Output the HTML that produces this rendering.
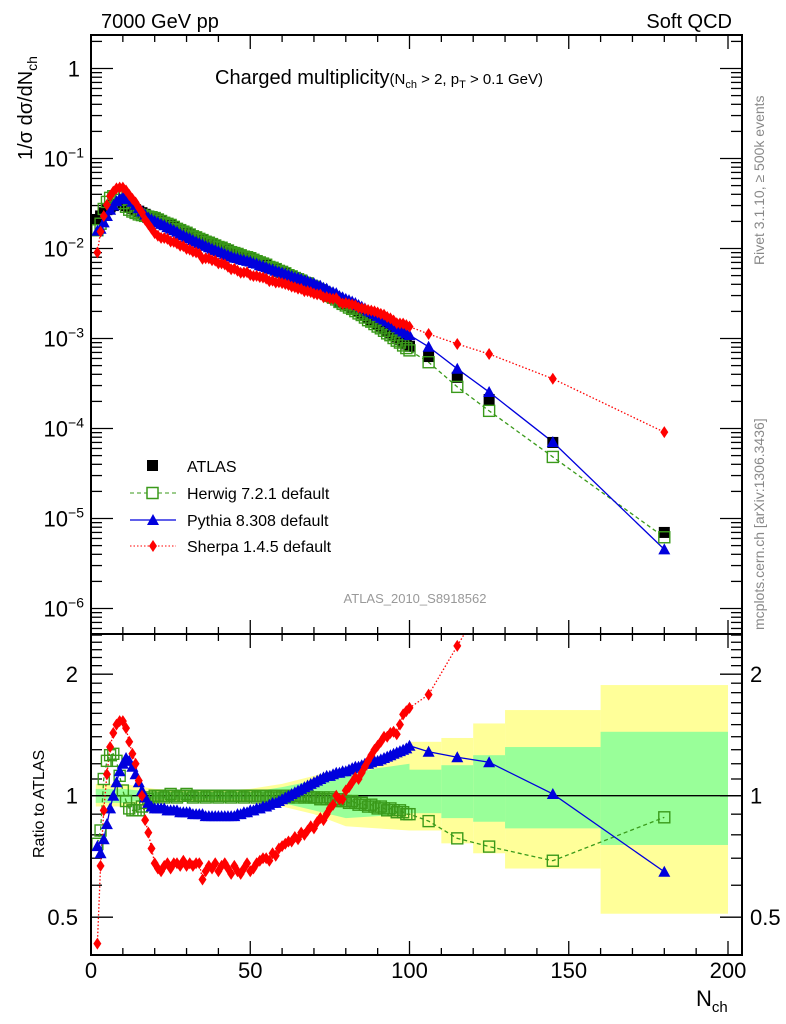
<!DOCTYPE html>
<html><head><meta charset="utf-8"><style>
html,body{margin:0;padding:0;background:#fff;}
svg{display:block;font-family:"Liberation Sans",sans-serif;}
</style></head><body>
<svg id="c" width="786" height="1024" viewBox="0 0 786 1024" xmlns="http://www.w3.org/2000/svg">
<defs>
<clipPath id="clipT"><rect x="91" y="35" width="651" height="599"/></clipPath>
<clipPath id="clipB"><rect x="91" y="634" width="651" height="321"/></clipPath>
</defs>
<rect width="786" height="1024" fill="#fff"/>
<g id="bands" clip-path="url(#clipB)"></g>
<g id="ticks"></g>
<line x1="91" y1="795.7" x2="742" y2="795.7" stroke="#000" stroke-width="1.3"/>
<g id="topSeries" clip-path="url(#clipT)"></g>
<g id="botSeries" clip-path="url(#clipB)"></g>
<rect x="91" y="35" width="651" height="599" fill="none" stroke="#000" stroke-width="2"/>
<rect x="91" y="634" width="651" height="321" fill="none" stroke="#000" stroke-width="2"/>
<g id="labels" font-size="22" fill="#000"></g>
<text x="101" y="28" font-size="20">7000 GeV pp</text>
<text x="732" y="28" font-size="20" text-anchor="end">Soft QCD</text>
<text x="215" y="84" font-size="20">Charged multiplicity<tspan font-size="15">(N</tspan><tspan font-size="11" dy="4">ch</tspan><tspan font-size="15" dy="-4"> &gt; 2, p</tspan><tspan font-size="11" dy="4">T</tspan><tspan font-size="15" dy="-4"> &gt; 0.1 GeV)</tspan></text>
<text transform="translate(32,160) rotate(-90)" font-size="20">1/σ dσ/dN<tspan font-size="14" dy="5">ch</tspan></text>
<text transform="translate(44,858) rotate(-90)" font-size="16">Ratio to ATLAS</text>
<text x="696" y="1006" font-size="22">N<tspan font-size="15" dy="6">ch</tspan></text>
<text transform="translate(764,265) rotate(-90)" font-size="14" fill="#888">Rivet 3.1.10, ≥ 500k events</text>
<text transform="translate(764,630) rotate(-90)" font-size="14" fill="#888">mcplots.cern.ch [arXiv:1306.3436]</text>
<text x="415" y="603" font-size="13" fill="#999" text-anchor="middle">ATLAS_2010_S8918562</text>
<g id="legend">
<rect x="147" y="460" width="11" height="11" fill="#000"/>
<text x="187" y="472" font-size="16">ATLAS</text>
<line x1="130" y1="493" x2="176" y2="493" stroke="#3a9a1a" stroke-dasharray="4,3"/>
<rect x="147" y="487.5" width="11" height="11" fill="#fff" stroke="#3a9a1a" stroke-width="1.5"/>
<text x="187" y="499" font-size="16">Herwig 7.2.1 default</text>
<line x1="130" y1="520" x2="176" y2="520" stroke="#0000dd" stroke-width="1.3"/>
<polygon points="153,514 159,525 147,525" fill="#0000dd"/>
<text x="187" y="526" font-size="16">Pythia 8.308 default</text>
<line x1="130" y1="546" x2="176" y2="546" stroke="#f00" stroke-dasharray="1.5,2"/>
<polygon points="153,540 157,546 153,552 149,546" fill="#f00"/>
<text x="187" y="552" font-size="16">Sherpa 1.4.5 default</text>
</g>
</svg>
<script>
const denseStart = 2;
const atlas = [0.021,0.023,0.025,0.027,0.029,0.030,0.031,0.031,0.031,0.030,0.029,0.028,0.027,0.026,0.025,0.024,0.023,0.0225,0.0218,
0.021,0.0202,0.0195,0.0188,0.0181,0.0174,0.0167,0.0160,0.0154,0.0148,
0.0143,0.0138,0.0133,0.0128,0.0124,0.0120,0.0116,0.0112,0.0108,0.0105,
0.0102,0.0098,0.0095,0.0092,0.0089,0.0087,0.0084,0.0082,0.0080,0.0078,
0.0075,0.0073,0.0070,0.0068,0.0066,0.0063,0.0061,0.0059,0.0057,0.0055,
0.0053,0.0051,0.0049,0.0047,0.0046,0.0044,0.0042,0.0041,0.0039,0.0038,
0.0036,0.0035,0.0033,0.0032,0.0030,0.0029,0.0028,0.0026,0.0025,0.0024,
0.0023,0.0022,0.0021,0.0020,0.0019,0.0018,0.0017,0.00162,0.00154,0.00146,
0.00138,0.00131,0.00124,0.00117,0.00110,0.00104,0.00098,0.00092,0.00087,0.00082];
const herwigRatio = [0.76,0.82,1.10,1.22,1.26,1.27,1.22,1.12,1.03,0.97,0.93,0.92,0.92,0.92,0.94,0.96,0.98,0.99,1.0,
1.0,1.0,0.99,1.0,1.01,1.0,0.99,1.0,1.0,1.01,
1.0,0.99,1.0,1.0,1.0,0.99,1.0,1.0,1.0,0.99,
1.0,1.0,1.0,0.99,1.0,1.0,1.0,0.99,1.0,1.0,
1.0,0.99,1.0,1.0,1.0,0.99,1.0,1.0,0.99,1.0,
1.0,0.99,1.0,1.0,0.99,1.0,0.99,1.0,0.99,0.99,
0.99,0.98,0.99,0.98,0.99,0.98,0.97,0.98,0.97,0.97,
0.96,0.97,0.96,0.95,0.96,0.95,0.94,0.95,0.94,0.93,
0.94,0.93,0.92,0.93,0.92,0.91,0.92,0.91,0.90,0.90];
const pythiaRatio = [0.75,0.72,0.78,0.85,0.93,1.0,1.08,1.15,1.20,1.24,1.22,1.18,1.13,1.08,1.03,0.99,0.96,0.94,0.93,
0.93,0.93,0.93,0.92,0.92,0.92,0.92,0.91,0.91,0.91,
0.91,0.90,0.90,0.90,0.90,0.89,0.89,0.89,0.89,0.89,
0.89,0.89,0.89,0.89,0.89,0.90,0.90,0.91,0.91,0.92,
0.92,0.93,0.93,0.94,0.94,0.95,0.96,0.96,0.97,0.98,
0.99,1.0,1.01,1.02,1.03,1.04,1.05,1.06,1.07,1.08,
1.09,1.10,1.11,1.12,1.12,1.13,1.14,1.14,1.15,1.15,
1.16,1.17,1.18,1.18,1.19,1.20,1.20,1.21,1.22,1.22,
1.23,1.24,1.25,1.26,1.27,1.28,1.29,1.30,1.31,1.33];
const sherpaRatio = [0.43,0.67,0.92,1.13,1.32,1.43,1.50,1.53,1.53,1.47,1.36,1.27,1.20,1.09,1.0,0.87,0.81,0.74,0.68,
0.66,0.65,0.67,0.68,0.66,0.68,0.68,0.67,0.69,0.67,
0.68,0.67,0.68,0.68,0.62,0.65,0.67,0.66,0.68,0.65,
0.67,0.68,0.66,0.64,0.67,0.65,0.64,0.66,0.68,0.65,
0.66,0.68,0.69,0.70,0.70,0.69,0.72,0.71,0.74,0.75,
0.76,0.77,0.77,0.79,0.78,0.81,0.80,0.82,0.84,0.83,
0.86,0.88,0.87,0.90,0.93,0.95,1.0,0.98,0.98,1.03,
1.05,1.08,1.11,1.10,1.14,1.18,1.22,1.26,1.30,1.33,
1.36,1.40,1.40,1.43,1.44,1.42,1.50,1.59,1.62,1.65];
const tailN = [106,115,125,145,180];
const tailAtlas = [0.00063,0.00037,0.00021,7.0e-5,7.0e-6];
const tailHerwig = [0.865,0.784,0.748,0.69,0.884];
const tailPythia = [1.285,1.245,1.21,1.01,0.648];
const tailSherpa = [1.78,2.35,3.2,5.1,13];
const bandN = [1.5,10,20,30,40,50,60,70,80,90,100];
const yellowUp = [1.07,1.07,1.04,1.03,1.03,1.04,1.07,1.12,1.18,1.25,1.30];
const yellowLo = [0.94,0.94,0.96,0.97,0.97,0.97,0.94,0.90,0.84,0.83,0.82];
const greenUp = [1.04,1.04,1.02,1.02,1.02,1.02,1.05,1.09,1.12,1.17,1.20];
const greenLo = [0.96,0.96,0.98,0.98,0.98,0.98,0.96,0.92,0.88,0.89,0.905];
const tailEdges = [100,110,120,130,160,200];
const tailYellowUp = [1.36,1.39,1.51,1.63,1.88];
const tailYellowLo = [0.82,0.762,0.72,0.66,0.51];
const tailGreenUp = [1.16,1.19,1.26,1.32,1.44];
const tailGreenLo = [0.905,0.88,0.862,0.83,0.755];
const xTicks = [0,50,100,150,200];
const topTicks = [0,-1,-2,-3,-4,-5,-6];
const ratioTicks = [0.5,1,2];

const NS="http://www.w3.org/2000/svg";
const xS=n=>91+3.185*n;
const yT=v=>68.5-90*Math.log10(v);
const yR=r=>795.7-403.6*Math.log10(r);
function mk(tag,attrs,parent){const e=document.createElementNS(NS,tag);for(const k in attrs)e.setAttribute(k,attrs[k]);parent.appendChild(e);return e;}
const G=id=>document.getElementById(id);

// Bands
const bandsG=G('bands');
function bandPoly(up,lo,color,name){
  let pts=[];
  bandN.forEach((n,i)=>pts.push(xS(n)+','+yR(up[i])));
  for(let i=bandN.length-1;i>=0;i--)pts.push(xS(bandN[i])+','+yR(lo[i]));
  const p=mk('polygon',{points:pts.join(' '),fill:color},bandsG);
  
  
}
function tailRects(up,lo,color,name){
  for(let i=0;i<up.length;i++){
    const r=mk('rect',{x:xS(tailEdges[i]),y:yR(up[i]),width:xS(tailEdges[i+1])-xS(tailEdges[i]),height:yR(lo[i])-yR(up[i]),fill:color},bandsG);
    
    
  }
}
bandPoly(yellowUp,yellowLo,'#ffff99','yellow-uncertainty-band');
tailRects(tailYellowUp,tailYellowLo,'#ffff99','yellow-uncertainty-band');
bandPoly(greenUp,greenLo,'#99ff99','green-uncertainty-band');
tailRects(tailGreenUp,tailGreenLo,'#99ff99','green-uncertainty-band');

// Ticks
const tk=G('ticks');
function ln(x1,y1,x2,y2,name){const l=mk('line',{x1,y1,x2,y2,stroke:'#000','stroke-width':1.3},tk);}
for(let n=0;n<=200;n+=10){
  const x=xS(n),maj=n%50===0,L=maj?14:7;
  ln(x,35,x,35+L,'x-tick');
  ln(x,634-L,x,634+L,'x-tick');
  ln(x,955,x,955-L,'x-tick');
}
for(let d=1;d>=-7;d--){
  for(let m=1;m<10;m++){
    const v=m*Math.pow(10,d),y=yT(v);
    if(y<35||y>634)continue;
    const L=m===1?22:11;
    ln(91,y,91+L,y,'y-tick');ln(742,y,742-L,y,'y-tick');
  }
}
for(let r=0.4;r<=2.55;r+=0.1){
  const rr=Math.round(r*10)/10,y=yR(rr);
  if(y<634||y>955)continue;
  const L=(rr===0.5||rr===1||rr===2)?22:11;
  ln(91,y,91+L,y,'ratio-tick');ln(742,y,742-L,y,'ratio-tick');
}

// Labels
const lab=G('labels');
xTicks.forEach(v=>{const t=mk('text',{x:xS(v),y:978,'text-anchor':'middle'},lab);t.textContent=v;

});
topTicks.forEach(e=>{const y=yT(Math.pow(10,e));const t=mk('text',{x:e===0?80:84,y:y+8,'text-anchor':'end'},lab);


if(e===0)t.textContent='1';else{t.textContent='10';const s=mk('tspan',{dy:-9,'font-size':14},t);s.textContent='−'+(-e);}});
ratioTicks.forEach(r=>{const y=yR(r)+8;
const a=mk('text',{x:78,y,'text-anchor':'end'},lab);a.textContent=r;


const b=mk('text',{x:750,y},lab);b.textContent=r;

});

// Series
const allN=[],allA=[],allH=[],allP=[],allS=[];
atlas.forEach((v,i)=>{allN.push(denseStart+i);allA.push(v);allH.push(herwigRatio[i]);allP.push(pythiaRatio[i]);allS.push(sherpaRatio[i]);});
tailN.forEach((n,i)=>{allN.push(n);allA.push(tailAtlas[i]);allH.push(tailHerwig[i]);allP.push(tailPythia[i]);allS.push(tailSherpa[i]);});

function drawLine(g,ys,color,dash,name){
  const pts=allN.map((n,i)=>xS(n)+','+ys[i]).join(' ');
  const a={points:pts,fill:'none',stroke:color,'stroke-width':1.3};if(dash)a['stroke-dasharray']=dash;
  const p=mk('polyline',a,g);
  
  
}
function sq(g,x,y,fill,stroke,name){const r=mk('rect',{x:x-5.5,y:y-5.5,width:11,height:11,fill,stroke:stroke||'none','stroke-width':1.4},g);

}
function tri(g,x,y,name){const p=mk('polygon',{points:`${x},${y-6} ${x+6},${y+5} ${x-6},${y+5}`,fill:'#0000dd'},g);

}
function dia(g,x,y,name){const p=mk('polygon',{points:`${x},${y-6} ${x+4},${y} ${x},${y+6} ${x-4},${y}`,fill:'#f00'},g);

}

const topG=G('topSeries'),botG=G('botSeries');
// top panel
const tH=allA.map((a,i)=>yT(a*allH[i])),tP=allA.map((a,i)=>yT(a*allP[i])),tS=allA.map((a,i)=>yT(a*allS[i]));
drawLine(topG,tS,'#f00','1.5,2','sherpa-line');
drawLine(topG,tH,'#3a9a1a','4,3','herwig-line');
drawLine(topG,tP,'#0000dd','','pythia-line');
allN.forEach((n,i)=>sq(topG,xS(n),yT(allA[i]),'#000',null,'atlas-point'));
allN.forEach((n,i)=>sq(topG,xS(n),tH[i],'none','#3a9a1a','herwig-point'));
allN.forEach((n,i)=>tri(topG,xS(n),tP[i],'pythia-point'));
allN.forEach((n,i)=>dia(topG,xS(n),tS[i],'sherpa-point'));
// ratio panel
const rH=allH.map(yR),rP=allP.map(yR),rS=allS.map(yR);
drawLine(botG,rS,'#f00','1.5,2','sherpa-ratio-line');
drawLine(botG,rH,'#3a9a1a','4,3','herwig-ratio-line');
drawLine(botG,rP,'#0000dd','','pythia-ratio-line');
allN.forEach((n,i)=>sq(botG,xS(n),rH[i],'none','#3a9a1a','herwig-ratio-point'));
allN.forEach((n,i)=>tri(botG,xS(n),rP[i],'pythia-ratio-point'));
allN.forEach((n,i)=>dia(botG,xS(n),rS[i],'sherpa-ratio-point'));
</script>
</body></html>
